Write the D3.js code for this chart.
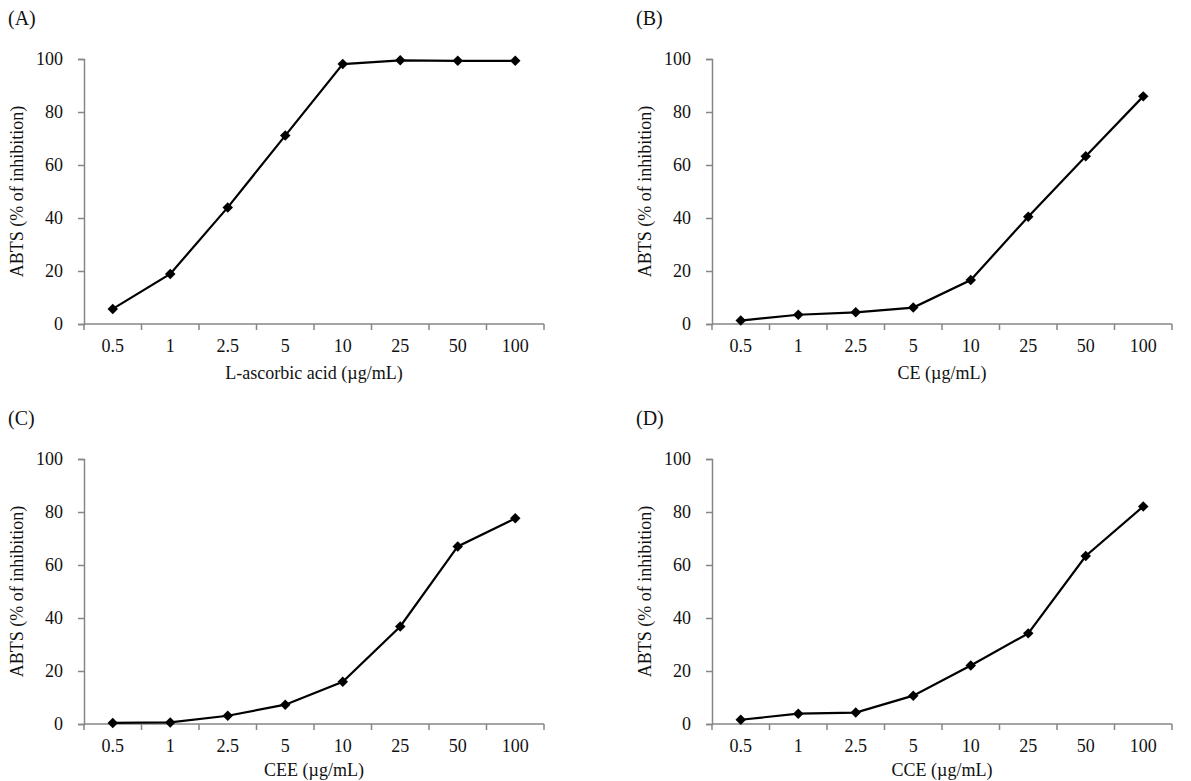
<!DOCTYPE html>
<html>
<head>
<meta charset="utf-8">
<script src="https://cdn.jsdelivr.net/npm/d3@7"></script>
<style>
  html, body { margin: 0; padding: 0; background: #fff; }
  svg { display: block; }
  svg text { font-family: "Liberation Serif", Tinos, "Times New Roman", "DejaVu Serif", serif !important; fill: #111; }
</style>
</head>
<body>
<svg id="chart" width="1191" height="781"></svg>
<script>
const concentrations = ["0.5", "1", "2.5", "5", "10", "25", "50", "100"];
const yTicks = [0, 20, 40, 60, 80, 100];
const panelLabels = ["(A)", "(B)", "(C)", "(D)"];
const xTitles = ["L-ascorbic acid (\u00b5g/mL)", "CE (\u00b5g/mL)", "CEE (\u00b5g/mL)", "CCE (\u00b5g/mL)"];
const yTitle = "ABTS (% of inhibition)";
const ascorbicValues = [5.7, 18.9, 44.0, 71.1, 98.1, 99.5, 99.3, 99.3];
const ceValues = [1.3, 3.5, 4.4, 6.2, 16.6, 40.5, 63.3, 85.9];
const ceeValues = [0.4, 0.6, 3.1, 7.3, 15.9, 36.8, 67.0, 77.6];
const cceValues = [1.6, 3.9, 4.3, 10.7, 22.1, 34.2, 63.4, 82.1];
const seriesList = [ascorbicValues, ceValues, ceeValues, cceValues];

const FONT = '"Liberation Serif", Tinos, "Times New Roman", serif';
const svg = d3.select("#chart");
const panels = [
  { left: 84, top: 59, titleDy: 55 },
  { left: 712, top: 59, titleDy: 55 },
  { left: 84, top: 459, titleDy: 52 },
  { left: 712, top: 459, titleDy: 52 }
];
const plotW = 460, plotH = 265;
const axisColor = "#868686";

panels.forEach((p, i) => {
  const g = svg.append("g").attr("transform", `translate(${p.left},${p.top})`);
  const x = d3.scaleBand().domain(concentrations).range([0, plotW]);
  const y = d3.scaleLinear().domain([0, 100]).range([plotH, 0]);

  // Panel label
  svg.append("text")
    .attr("x", p.left - 76).attr("y", p.top - 34)
    .style("font-size", "20px").style("font-family", FONT)
    .text(panelLabels[i]);

  // Y axis
  const yAxis = g.append("g").call(d3.axisLeft(y).tickValues(yTicks).tickSize(6).tickPadding(15));
  yAxis.attr("font-family", null);
  yAxis.select(".domain").attr("stroke", axisColor).attr("stroke-width", 1.5);
  yAxis.selectAll(".tick line").attr("stroke", axisColor).attr("stroke-width", 1.5);
  yAxis.selectAll(".tick text")
    .style("font-size", "18px").style("font-family", FONT).attr("fill", "#111");

  // X axis: ticks at band boundaries
  const xAxisG = g.append("g").attr("transform", `translate(0,${plotH})`);
  xAxisG.append("line")
    .attr("x1", 0).attr("x2", plotW).attr("y1", 0).attr("y2", 0)
    .attr("stroke", axisColor).attr("stroke-width", 1.5);
  const bounds = concentrations.map(c => x(c)).concat([plotW]);
  xAxisG.selectAll("line.btick").data(bounds).enter().append("line")
    .attr("class", "btick")
    .attr("x1", d => d).attr("x2", d => d).attr("y1", 0).attr("y2", 6)
    .attr("stroke", axisColor).attr("stroke-width", 1.5);
  xAxisG.selectAll("text.xlab").data(concentrations).enter().append("text")
    .attr("class", "xlab")
    .attr("x", d => x(d) + x.bandwidth() / 2).attr("y", 28)
    .attr("text-anchor", "middle")
    .style("font-size", "18px").style("font-family", FONT)
    .text(d => d);

  // X title
  g.append("text")
    .attr("x", plotW / 2).attr("y", plotH + p.titleDy)
    .attr("text-anchor", "middle")
    .style("font-size", "18px").style("font-family", FONT)
    .text(xTitles[i]);

  // Y title
  g.append("text")
    .attr("transform", `translate(${-61},${plotH / 2}) rotate(-90)`)
    .attr("text-anchor", "middle")
    .style("font-size", "18px").style("font-family", FONT)
    .text(yTitle);

  // Line + markers
  const data = concentrations.map((c, k) => ({ c, v: seriesList[i][k] }));
  const line = d3.line().x(d => x(d.c) + x.bandwidth() / 2).y(d => y(d.v));
  g.append("path").datum(data)
    .attr("d", line).attr("fill", "none")
    .attr("stroke", "#000").attr("stroke-width", 2.2);
  g.selectAll("path.mk").data(data).enter().append("path")
    .attr("class", "mk")
    .attr("d", d3.symbol().type(d3.symbolDiamond2).size(70))
    .attr("transform", d => `translate(${x(d.c) + x.bandwidth() / 2},${y(d.v)})`)
    .attr("fill", "#000");
});
</script>
</body>
</html>
